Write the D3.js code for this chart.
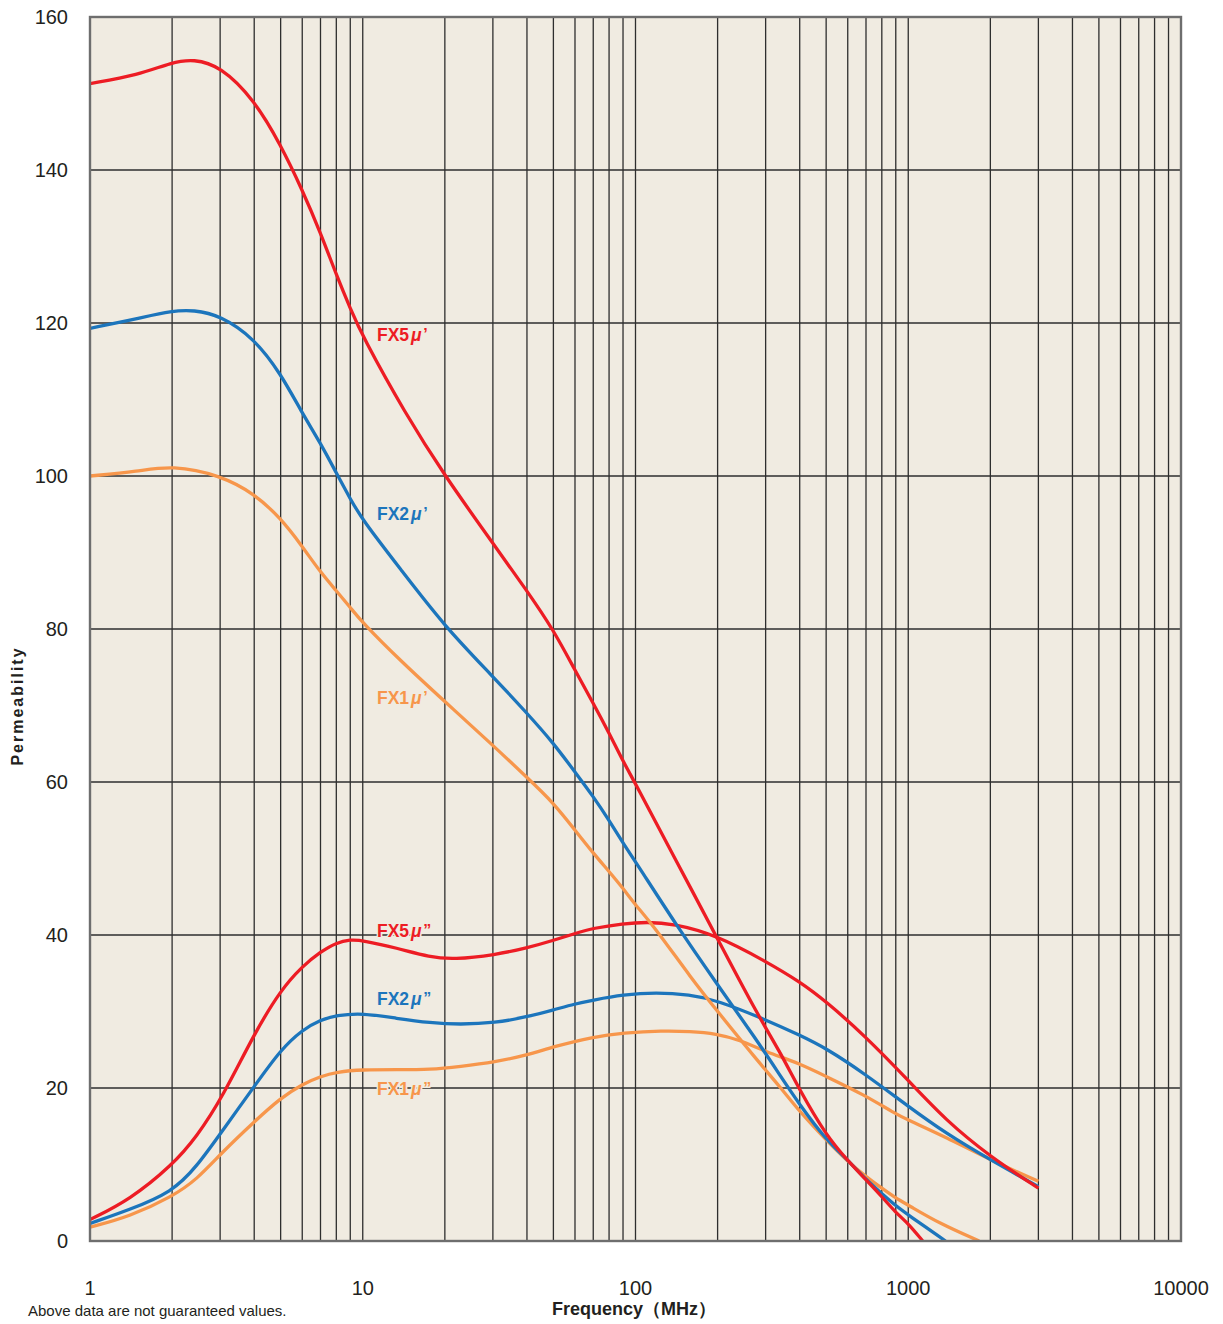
<!DOCTYPE html>
<html><head><meta charset="utf-8">
<script src="https://cdn.jsdelivr.net/npm/d3@7"></script>
<style>
html,body{margin:0;padding:0;background:#fff;}
svg{display:block;font-family:"Liberation Sans",Arial,Helvetica,sans-serif;}
</style></head>
<body>
<svg id="chart" width="1223" height="1324"></svg>
<script>
// ---- Data ----
const yTicks = [0, 20, 40, 60, 80, 100, 120, 140, 160];
const xTickLabels = [1, 10, 100, 1000, 10000];

const fx5MuPFreq = [1, 1.5, 2, 2.4, 3, 4, 5, 6, 7, 8, 9, 10, 14.3, 20, 30, 40, 50, 60, 70, 80, 90, 100, 140, 200, 278, 338, 400, 500, 600, 700, 800, 900, 1000, 1130];
const fx5MuPVal  = [151.3, 152.4, 154.1, 154.5, 153.6, 149.2, 143.3, 137.4, 131.8, 126.3, 121.9, 118.2, 108.2, 100.0, 91.2, 85.0, 79.9, 74.6, 70.3, 66.4, 62.7, 59.8, 49.9, 39.5, 29.8, 24.8, 19.7, 13.8, 10.5, 8.0, 5.8, 3.7, 2.3, 0];

const fx2MuPFreq = [1, 1.5, 2, 2.4, 3, 4, 5, 6, 7, 8, 9, 10, 13.7, 20, 30, 40, 50, 60, 70, 80, 90, 100, 141, 198, 278, 338, 400, 500, 600, 700, 800, 900, 1000, 1370];
const fx2MuPVal  = [119.3, 120.6, 121.6, 121.7, 121.0, 118.0, 113.4, 108.2, 104.3, 100.4, 97.0, 94.2, 87.9, 80.3, 73.8, 69.0, 65.1, 61.3, 58.1, 55.0, 52.0, 49.6, 41.3, 33.7, 26.3, 21.7, 17.8, 13.2, 10.6, 8.0, 6.2, 4.6, 3.4, 0];

const fx1MuPFreq = [1, 1.5, 2, 3, 4, 5, 6, 7, 8, 9, 10, 13.7, 20, 30, 40, 50, 60, 70, 80, 90, 100, 116, 162, 198, 278, 338, 400, 500, 600, 700, 800, 900, 1000, 1300, 1820];
const fx1MuPVal  = [100.0, 100.6, 101.4, 100.1, 97.7, 94.5, 90.8, 87.4, 85.0, 82.8, 80.8, 75.9, 70.5, 64.8, 60.6, 57.3, 53.7, 50.7, 48.3, 46.1, 43.9, 41.3, 34.1, 30.2, 23.7, 20.2, 16.9, 13.2, 10.4, 8.4, 6.9, 5.6, 4.7, 2.3, 0];

const fx5MuPPFreq = [1, 1.4, 2, 2.46, 3.07, 4, 5, 6, 7, 8, 9, 10, 13.3, 17.7, 21.5, 30.6, 40, 50, 60, 70, 90, 110, 137, 198, 302, 400, 500, 690, 1000, 1370, 2000, 3000];
const fx5MuPPVal  = [2.8, 5.4, 9.9, 13.6, 18.9, 27.1, 32.8, 35.9, 37.8, 39.0, 39.4, 39.3, 38.3, 37.1, 36.8, 37.4, 38.3, 39.3, 40.2, 40.9, 41.5, 41.7, 41.5, 40.0, 36.5, 33.9, 31.3, 26.9, 21.0, 15.8, 11.0, 6.9];

const fx2MuPPFreq = [1, 1.4, 2, 2.46, 3.07, 4, 5, 6, 7, 8, 10, 13.3, 17.7, 22.7, 30.6, 40, 50, 60, 70, 90, 119, 158, 198, 302, 400, 500, 690, 1000, 1370, 2000, 3000];
const fx2MuPPVal  = [2.3, 4.1, 6.4, 9.7, 14.5, 20.2, 25.0, 27.6, 28.9, 29.5, 29.8, 29.1, 28.5, 28.3, 28.5, 29.3, 30.2, 31.0, 31.5, 32.2, 32.5, 32.2, 31.5, 28.9, 26.9, 25.2, 21.9, 17.6, 14.1, 10.6, 7.1];

const fx1MuPPFreq = [1, 1.4, 2, 2.46, 3.07, 4, 5, 6, 7, 8, 10, 13.3, 17.7, 22.7, 30.6, 40, 50, 70, 90, 126, 158, 198, 240, 302, 400, 500, 690, 890, 1000, 1370, 2000, 3000];
const fx1MuPPVal  = [1.8, 3.2, 5.8, 8.0, 11.7, 15.6, 18.7, 20.5, 21.5, 22.1, 22.4, 22.4, 22.4, 22.8, 23.4, 24.3, 25.4, 26.7, 27.2, 27.5, 27.4, 27.1, 26.3, 24.7, 23.2, 21.5, 19.1, 16.7, 15.8, 13.6, 10.6, 7.8];

const seriesNames = ["FX5", "FX2", "FX1", "FX5", "FX2", "FX1"];
const seriesMarks = ["’", "’", "’", "”", "”", "”"];
const labelValues = [117.6, 94.2, 70.2, 39.8, 30.8, 19.1];

// ---- Layout ----
const pLeft = 90, pRight = 1181, pTop = 17, pBottom = 1241;
const C = {red: "#ED1C24", blue: "#1C75BC", orange: "#F7964B", bg: "#F0EBE1"};
const colors = [C.red, C.blue, C.orange, C.red, C.blue, C.orange];

const svg = d3.select("#chart");
const x = d3.scaleLog().domain([1, 10000]).range([pLeft, pRight]);
const y = d3.scaleLinear().domain([0, 160]).range([pBottom, pTop]);

svg.append("rect").attr("x", pLeft).attr("y", pTop)
  .attr("width", pRight - pLeft).attr("height", pBottom - pTop).attr("fill", C.bg);

// vertical grid
const vTicks = [];
for (let d = 1; d < 10000; d *= 10) for (let k = 1; k <= 9; k++) vTicks.push(d * k);
svg.append("g").selectAll("line").data(vTicks.filter(v => v > 1)).join("line")
  .attr("x1", d => x(d)).attr("x2", d => x(d)).attr("y1", pTop).attr("y2", pBottom)
  .attr("stroke", "#2e2e2e").attr("stroke-width", 1.3);
// horizontal grid
svg.append("g").selectAll("line").data(yTicks.filter(v => v > 0 && v < 160)).join("line")
  .attr("x1", pLeft).attr("x2", pRight).attr("y1", d => y(d)).attr("y2", d => y(d))
  .attr("stroke", "#2e2e2e").attr("stroke-width", 1.3);

// clip
svg.append("clipPath").attr("id", "clip").append("rect")
  .attr("x", pLeft).attr("y", pTop).attr("width", pRight - pLeft).attr("height", pBottom - pTop);

const line = d3.line().x(d => x(d[0])).y(d => y(d[1])).curve(d3.curveBasis);
const zip = (a, b) => a.map((v, i) => [v, b[i]]);
const series = [
  zip(fx5MuPFreq, fx5MuPVal), zip(fx2MuPFreq, fx2MuPVal), zip(fx1MuPFreq, fx1MuPVal),
  zip(fx5MuPPFreq, fx5MuPPVal), zip(fx2MuPPFreq, fx2MuPPVal), zip(fx1MuPPFreq, fx1MuPPVal)
];
const drawOrder = [5, 4, 3, 2, 1, 0];
svg.append("g").attr("clip-path", "url(#clip)").selectAll("path").data(drawOrder).join("path")
  .attr("d", i => line(series[i])).attr("fill", "none")
  .attr("stroke", i => colors[i]).attr("stroke-width", 3.3)
  .attr("stroke-linejoin", "round").attr("stroke-linecap", "butt");

// border
svg.append("rect").attr("x", pLeft).attr("y", pTop)
  .attr("width", pRight - pLeft).attr("height", pBottom - pTop)
  .attr("fill", "none").attr("stroke", "#6e6e6e").attr("stroke-width", 2.4);

// series labels
const lab = svg.append("g");
seriesNames.forEach((n, i) => {
  const t = lab.append("text").attr("x", 377).attr("y", y(labelValues[i]))
    .attr("fill", colors[i]).attr("font-size", 17.5).attr("font-weight", "bold")
    .attr("stroke", C.bg).attr("stroke-width", 3).attr("paint-order", "stroke");
  t.append("tspan").text(n);
  t.append("tspan").attr("dx", 2).attr("font-style", "italic").text("μ");
  t.append("tspan").attr("dx", 1.5).attr("font-size", 16).attr("dy", -1).text(seriesMarks[i]);
});

// y tick labels
svg.append("g").selectAll("text").data(yTicks).join("text")
  .attr("x", 68).attr("y", d => y(d)).attr("dy", "0.36em").attr("text-anchor", "end")
  .attr("font-size", 20).attr("fill", "#231f20").text(d => d);

// x tick labels
svg.append("g").selectAll("text").data(xTickLabels).join("text")
  .attr("x", d => x(d)).attr("y", 1295).attr("text-anchor", "middle")
  .attr("font-size", 20).attr("fill", "#231f20").text(d => d);

// axis titles
svg.append("text").attr("x", 634).attr("y", 1315).attr("text-anchor", "middle")
  .attr("font-size", 18).attr("font-weight", "bold").attr("fill", "#231f20")
  .text("Frequency（MHz）");
svg.append("text").attr("transform", "translate(23,706) rotate(-90)")
  .attr("text-anchor", "middle").attr("font-size", 16).attr("font-weight", "bold")
  .attr("letter-spacing", 2).attr("fill", "#231f20").text("Permeability");
svg.append("text").attr("x", 28).attr("y", 1316).attr("font-size", 15)
  .attr("fill", "#231f20").text("Above data are not guaranteed values.");
</script>
</body></html>
